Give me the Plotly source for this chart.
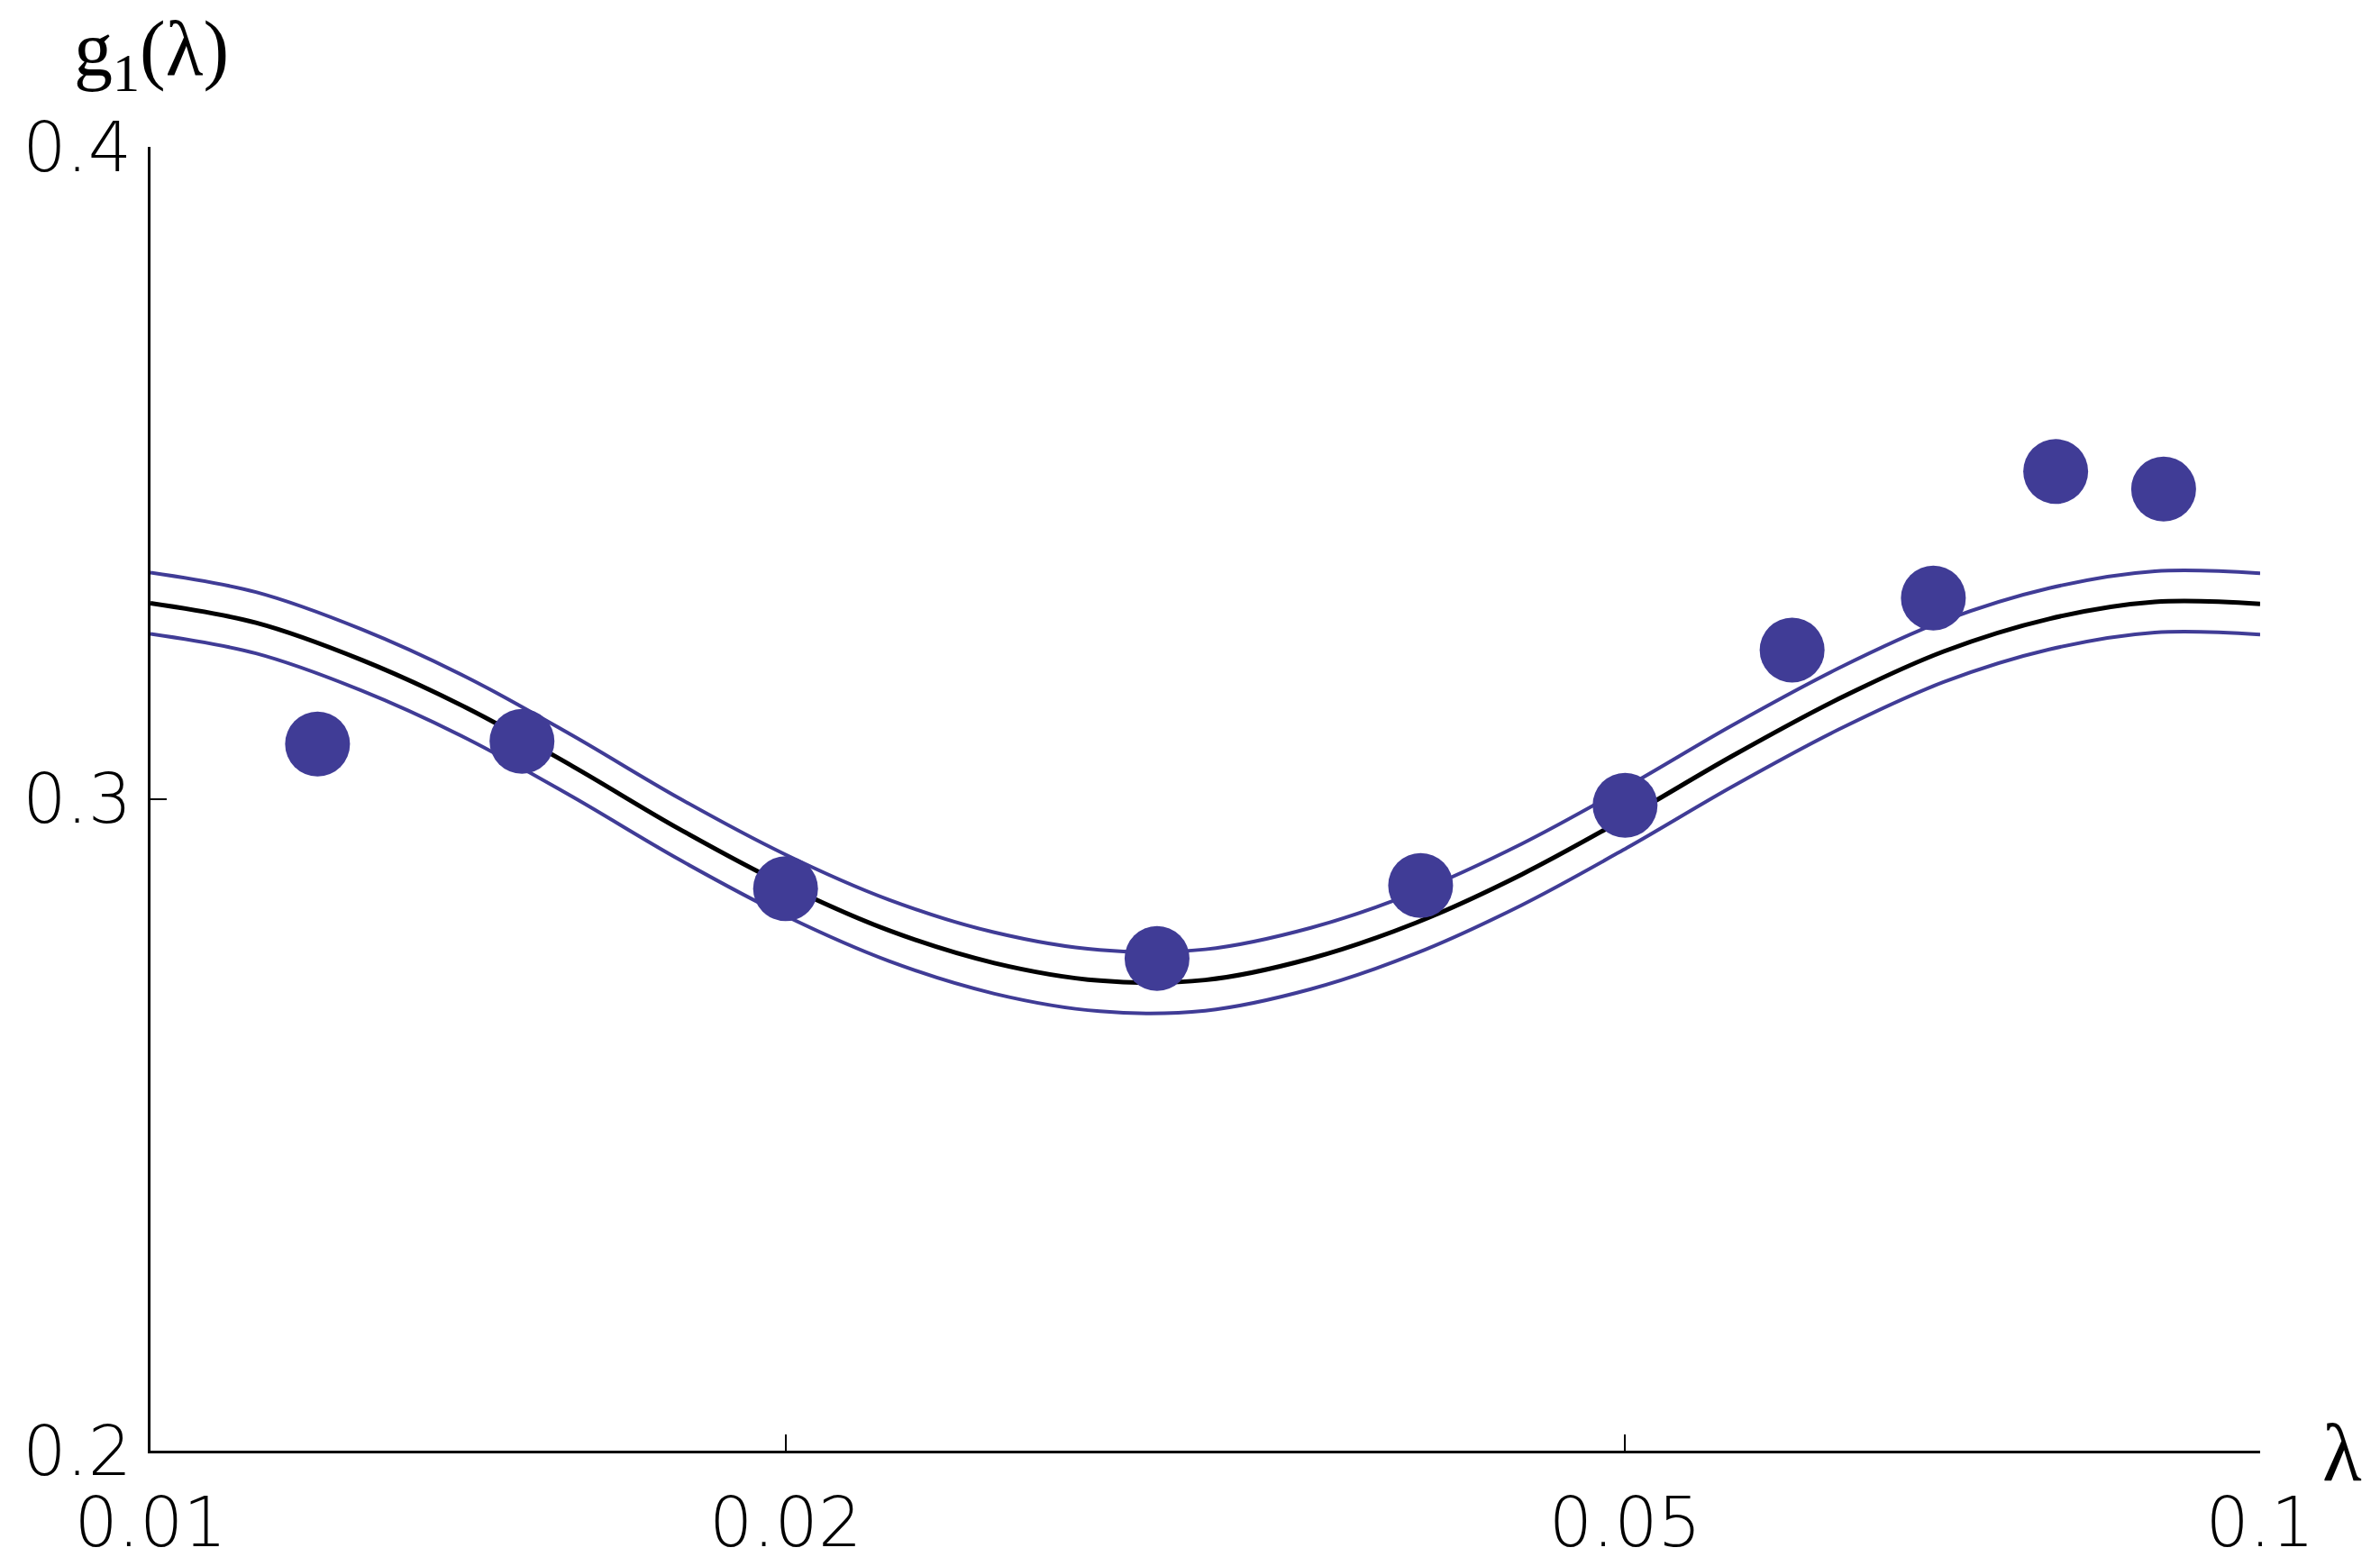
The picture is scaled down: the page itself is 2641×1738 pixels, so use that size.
import plotly.graph_objects as go

# ---- data ----
lam_curve = [0.01000, 0.01122, 0.01259, 0.01413, 0.01585, 0.01778, 0.01995, 0.02239,
             0.02512, 0.02818, 0.03162, 0.03548, 0.03981, 0.04467, 0.05012, 0.05623,
             0.06310, 0.07079, 0.07943, 0.08913, 0.10000]
g_center = [0.3300, 0.3270, 0.3213, 0.3139, 0.3050, 0.2955, 0.2869, 0.2798,
            0.2748, 0.2721, 0.2722, 0.2755, 0.2810, 0.2884, 0.2972, 0.3066,
            0.3153, 0.3226, 0.3276, 0.3302, 0.3299]
g_upper = [0.3347, 0.3317, 0.3260, 0.3186, 0.3097, 0.3002, 0.2916, 0.2845,
           0.2795, 0.2768, 0.2769, 0.2802, 0.2857, 0.2931, 0.3019, 0.3113,
           0.3200, 0.3273, 0.3323, 0.3349, 0.3346]
g_lower = [0.3253, 0.3223, 0.3166, 0.3092, 0.3003, 0.2908, 0.2822, 0.2751,
           0.2701, 0.2674, 0.2675, 0.2708, 0.2763, 0.2837, 0.2925, 0.3019,
           0.3106, 0.3179, 0.3229, 0.3255, 0.3252]

lam_pts = [0.012, 0.015, 0.020, 0.030, 0.040, 0.050, 0.060, 0.070, 0.080, 0.090]
g_pts = [0.3084, 0.3088, 0.2862, 0.2755, 0.2867, 0.2990, 0.3228, 0.3308, 0.3502, 0.3475]

x_tickvals = [0.01, 0.02, 0.05, 0.1]
x_ticktext = ["0.01", "0.02", "0.05", "0.1"]
y_tickvals = [0.2, 0.3, 0.4]
y_ticktext = ["0.2", "0.3", "0.4"]

BLUE = "#403C96"
TICKFONT = dict(family="DejaVu Sans", size=76, color="black", weight=200)

fig = go.Figure()
fig.add_trace(go.Scatter(x=lam_curve, y=g_upper, mode="lines",
                         line=dict(color=BLUE, width=4, shape="spline"), showlegend=False))
fig.add_trace(go.Scatter(x=lam_curve, y=g_lower, mode="lines",
                         line=dict(color=BLUE, width=4, shape="spline"), showlegend=False))
fig.add_trace(go.Scatter(x=lam_curve, y=g_center, mode="lines",
                         line=dict(color="black", width=5, shape="spline"), showlegend=False))
fig.add_trace(go.Scatter(x=lam_pts, y=g_pts, mode="markers",
                         marker=dict(color=BLUE, size=72, line=dict(width=0)), showlegend=False))

fig.update_layout(
    width=2641, height=1738,
    margin=dict(l=167, r=133, t=163, b=128),
    paper_bgcolor="white", plot_bgcolor="white",
    xaxis=dict(type="log", range=[-2, -1], showgrid=False, zeroline=False, automargin=False,
               showline=True, linecolor="black", linewidth=2.5,
               ticks="inside", ticklen=18, tickwidth=2, tickcolor="black",
               tickvals=x_tickvals, ticktext=x_ticktext, tickfont=TICKFONT,
               ticklabelstandoff=12),
    yaxis=dict(range=[0.2, 0.4], showgrid=False, zeroline=False, automargin=False,
               showline=True, linecolor="black", linewidth=2.5,
               ticks="inside", ticklen=18, tickwidth=2, tickcolor="black",
               tickvals=y_tickvals, ticktext=y_ticktext, tickfont=TICKFONT,
               ticklabelstandoff=3),
)

fig.add_annotation(text="g<sub>1</sub>(λ)", xref="paper", yref="paper",
                   x=-0.0372, y=1.0712, xanchor="left", yanchor="middle",
                   showarrow=False, font=dict(family="Liberation Serif", size=86, color="black"))
fig.add_annotation(text="λ", xref="paper", yref="paper",
                   x=1.0389, y=-0.002, xanchor="center", yanchor="middle",
                   showarrow=False, font=dict(family="Liberation Serif", size=90, color="black"))

fig.write_html("out.html", config={"displayModeBar": False},
               post_script="document.body.style.margin='0';")
